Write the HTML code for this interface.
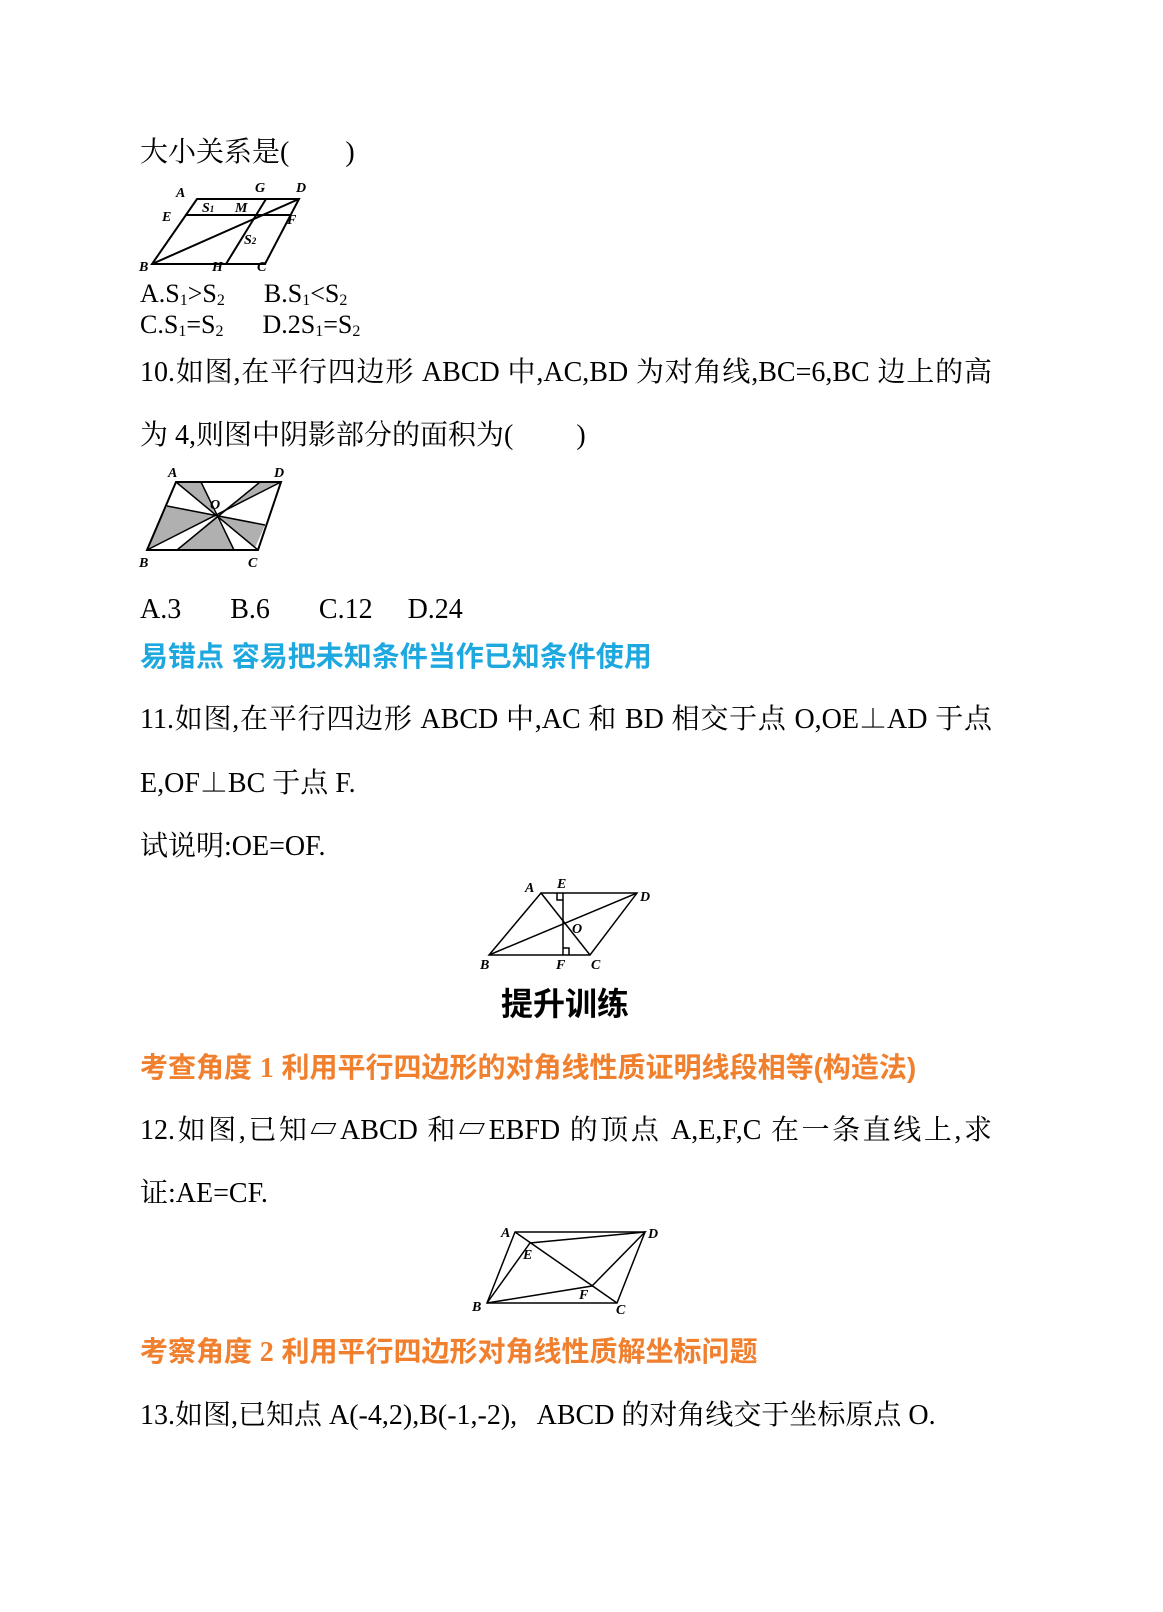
<!DOCTYPE html>
<html><head><meta charset="utf-8"><style>
body{margin:0;width:1163px;height:1612px;background:#fff;position:relative;font-family:"Liberation Serif","Noto Serif CJK SC","Noto Sans CJK SC",serif;color:#000}
.l{position:absolute;left:140px;font-size:28px;white-space:nowrap;line-height:1}
.j{width:852px;text-align-last:justify;text-align:justify}
.b{font-family:"Liberation Sans","Noto Sans CJK SC",sans-serif;font-weight:bold}
.s{font-family:"Liberation Serif",serif}
svg{position:absolute;left:0;top:0}
svg text{font-family:"Liberation Serif",serif;font-style:italic;font-weight:bold;font-size:14px}
sub{font-size:16px;vertical-align:-3px;line-height:0}
</style></head><body>
<div class="l" style="top:139px">大小关系是(　　)</div>
<div class="l" style="top:281px;font-size:26px">A.S<sub>1</sub>&gt;S<sub>2</sub>&nbsp;&nbsp;&nbsp;&nbsp;&nbsp; B.S<sub>1</sub>&lt;S<sub>2</sub></div>
<div class="l" style="top:312px;font-size:26px">C.S<sub>1</sub>=S<sub>2</sub>&nbsp;&nbsp;&nbsp;&nbsp;&nbsp; D.2S<sub>1</sub>=S<sub>2</sub></div>
<div class="l j" style="top:359px">10.如图,在平行四边形 ABCD 中,AC,BD 为对角线,BC=6,BC 边上的高</div>
<div class="l" style="top:422px">为 4,则图中阴影部分的面积为(　　&nbsp;)</div>
<div class="l" style="top:596px">A.3&nbsp;&nbsp;&nbsp;&nbsp;&nbsp;&nbsp; B.6&nbsp;&nbsp;&nbsp;&nbsp;&nbsp;&nbsp; C.12&nbsp;&nbsp;&nbsp;&nbsp; D.24</div>
<div class="l b" style="top:643px;color:#1ea8e0">易错点 容易把未知条件当作已知条件使用</div>
<div class="l j" style="top:706px">11.如图,在平行四边形 ABCD 中,AC 和 BD 相交于点 O,OE⊥AD 于点</div>
<div class="l" style="top:770px">E,OF⊥BC 于点 F.</div>
<div class="l" style="top:833px">试说明:OE=OF.</div>
<div class="l b" style="top:988px;left:501px;font-size:32px">提升训练</div>
<div class="l b" style="top:1054px;color:#f07f2e">考查角度 <span class="s">1</span> 利用平行四边形的对角线性质证明线段相等(构造法)</div>
<div class="l j" style="top:1117px">12.如图,已知▱ABCD 和▱EBFD 的顶点 A,E,F,C 在一条直线上,求</div>
<div class="l" style="top:1180px">证:AE=CF.</div>
<div class="l b" style="top:1338px;color:#f07f2e">考察角度 <span class="s">2</span> 利用平行四边形对角线性质解坐标问题</div>
<div class="l" style="top:1402px">13.如图,已知点 A(-4,2),B(-1,-2),&nbsp;&nbsp; ABCD 的对角线交于坐标原点 O.</div>
<svg width="1163" height="1612" stroke="#000" stroke-width="2" fill="none">
<polygon points="197,199 299,199 265,264 152,264"/>
<line x1="185" y1="215" x2="290" y2="215"/>
<line x1="266" y1="199" x2="226" y2="264"/>
<line x1="152" y1="264" x2="299" y2="199"/>
<g stroke="none" fill="#000">
<text x="176" y="197">A</text><text x="255" y="192">G</text><text x="296" y="192">D</text>
<text x="162" y="221">E</text><text x="287" y="224">F</text><text x="235" y="212">M</text>
<text x="202" y="212">S<tspan font-size="9">1</tspan></text><text x="244" y="244">S<tspan font-size="9">2</tspan></text>
<text x="139" y="271">B</text><text x="212" y="271">H</text><text x="257" y="271">C</text></g>
<g fill="#b0b0b0" stroke="none">
<polygon points="176,482 201,482 216,516"/><polygon points="260,482 281,482 216,516"/>
<polygon points="167,506 147,550 216,516"/><polygon points="177,550 234,550 216,516"/>
<polygon points="265,525 255,548 216,516"/></g>
<polygon points="176,482 281,482 258,550 147,550"/>
<g stroke-width="1.5"><line x1="176" y1="482" x2="258" y2="550"/><line x1="281" y1="482" x2="147" y2="550"/>
<line x1="201" y1="482" x2="234" y2="550"/><line x1="260" y1="482" x2="177" y2="550"/>
<line x1="167" y1="506" x2="265" y2="525"/></g>
<g stroke="none" fill="#000"><text x="168" y="477">A</text><text x="274" y="477">D</text><text x="210" y="509">O</text>
<text x="139" y="567">B</text><text x="248" y="567">C</text></g>
<g stroke-width="1.5">
<polygon points="541,893 637,893 590,955 489,955"/>
<line x1="541" y1="893" x2="590" y2="955"/><line x1="637" y1="893" x2="489" y2="955"/>
<line x1="563" y1="893" x2="563" y2="955"/>
<polyline points="557,893 557,900 563,900"/><polyline points="569,955 569,948 563,948"/></g>
<g stroke="none" fill="#000"><text x="525" y="892">A</text><text x="557" y="888">E</text><text x="640" y="901">D</text>
<text x="572" y="933">O</text><text x="480" y="969">B</text><text x="556" y="969">F</text><text x="591" y="969">C</text></g>
<g stroke-width="1.5">
<polygon points="515,1232 645,1232 617,1303 487,1303"/>
<line x1="515" y1="1232" x2="617" y2="1303"/>
<polyline points="487,1303 530,1243 645,1232 592,1286 487,1303"/></g>
<g stroke="none" fill="#000"><text x="501" y="1237">A</text><text x="648" y="1238">D</text><text x="523" y="1259">E</text>
<text x="579" y="1299">F</text><text x="472" y="1311">B</text><text x="616" y="1314">C</text></g>
</svg>
</body></html>
